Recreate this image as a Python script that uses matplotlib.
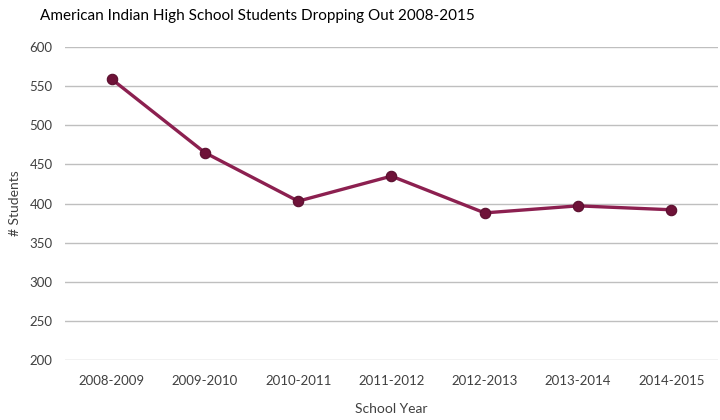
import matplotlib.pyplot as plt

years = ['2008-2009', '2009-2010', '2010-2011', '2011-2012',
         '2012-2013', '2013-2014', '2014-2015']
students = [559, 465, 403, 435, 388, 397, 392]
y_ticks = [200, 250, 300, 350, 400, 450, 500, 550, 600]


def main():
    plt.rcParams['font.family'] = ['Lato', 'DejaVu Sans']
    fig = plt.figure(figsize=(7.2, 4.2), dpi=100)
    ax = fig.add_axes([0.0903, 0.1429, 0.9067, 0.7451])

    x = list(range(len(years)))
    ax.plot(x, students, '-', color='#8C2050', lw=2.4, zorder=3)
    ax.plot(x, students, 'o', color='#6E1238', ms=7.5,
            markeredgecolor='#5A0F2E', markeredgewidth=0.8, zorder=4)

    ax.set_xlim(-0.5, len(years) - 0.5)
    ax.set_ylim(200, 600)
    ax.set_yticks(y_ticks)
    ax.set_xticks(x)
    ax.set_xticklabels(years)
    ax.grid(axis='y', color='#BFBFBF', lw=1)
    ax.set_axisbelow(True)
    for s in ax.spines.values():
        s.set_visible(False)
    ax.tick_params(length=0, labelsize=9.5, colors='#404040')
    ax.tick_params(axis='y', pad=9)
    ax.tick_params(axis='x', pad=11)

    ax.set_xlabel('School Year', fontsize=10, color='#404040', labelpad=11)
    ax.set_ylabel('# Students', fontsize=10, color='#404040', labelpad=6)
    fig.text(0.358, 0.962, 'American Indian High School Students Dropping Out 2008-2015',
             ha='center', va='center', fontsize=11, color='#000000')

    plt.savefig('out.png')


if __name__ == "__main__":
    main()
